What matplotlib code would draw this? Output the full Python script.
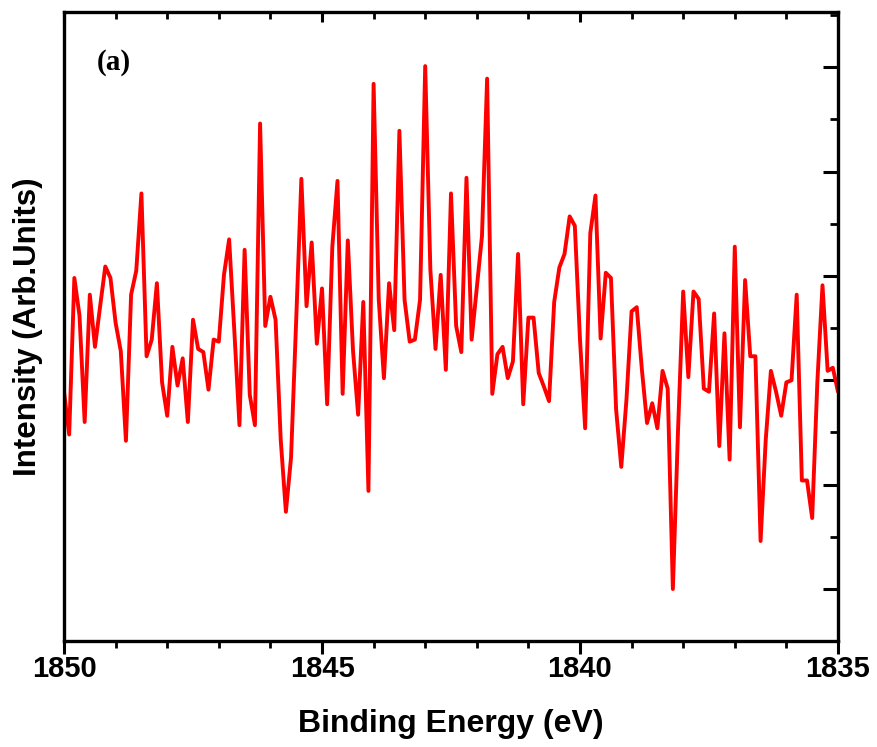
import matplotlib
matplotlib.use("Agg")
import matplotlib.pyplot as plt
from matplotlib.ticker import MultipleLocator
import numpy as np

# S 1s region scan, 0.1 eV steps from 1850 eV down to 1835 eV
energy_start = 1850.0
energy_step = 0.1
intensity = [
    5289, 5248, 5398, 5362, 5260, 5382, 5332, 5371, 5409, 5398,
    5355, 5328, 5242, 5382, 5405, 5479, 5323, 5339, 5393, 5298,
    5266, 5332, 5295, 5321, 5260, 5358, 5330, 5327, 5291, 5339,
    5337, 5401, 5435, 5348, 5257, 5425, 5286, 5257, 5546, 5352,
    5380, 5358, 5243, 5174, 5226, 5358, 5493, 5371, 5432, 5335,
    5388, 5277, 5428, 5491, 5287, 5434, 5329, 5267, 5375, 5194,
    5584, 5377, 5302, 5393, 5348, 5539, 5377, 5337, 5339, 5377,
    5601, 5406, 5330, 5401, 5310, 5479, 5352, 5327, 5494, 5339,
    5388, 5438, 5589, 5287, 5325, 5332, 5302, 5318, 5421, 5277,
    5360, 5360, 5307, 5294, 5280, 5375, 5408, 5421, 5457, 5448,
    5339, 5254, 5441, 5477, 5340, 5403, 5398, 5272, 5217, 5281,
    5366, 5370, 5310, 5259, 5278, 5254, 5309, 5292, 5100, 5252,
    5385, 5303, 5385, 5378, 5292, 5289, 5364, 5237, 5345, 5224,
    5428, 5255, 5396, 5323, 5323, 5146, 5243, 5309, 5289, 5266,
    5298, 5300, 5382, 5204, 5204, 5168, 5298, 5391, 5309, 5312,
    5289,
]
energy = energy_start - energy_step * np.arange(len(intensity))

x_ticks = [1850, 1845, 1840, 1835]
x_tick_labels = ["1850", "1845", "1840", "1835"]

plt.rcParams["font.family"] = ["Liberation Sans", "DejaVu Sans"]

fig = plt.figure(figsize=(8.77, 7.47), dpi=100)
ax = fig.add_axes([0.073, 0.1419, 0.8825, 0.842])

ax.plot(energy, intensity, color="#ff0000", lw=2.8,
        solid_joinstyle="round", solid_capstyle="round")

ax.set_xlim(1850, 1835)
ax.set_ylim(5050.2, 5652.8)

ax.set_xticks(x_ticks)
ax.set_xticklabels(x_tick_labels, fontsize=21, fontweight="bold")
ax.xaxis.set_minor_locator(MultipleLocator(1))
ax.yaxis.set_major_locator(MultipleLocator(100))
ax.yaxis.set_minor_locator(MultipleLocator(50))

ax.tick_params(axis="x", which="major", direction="out", length=9, width=2.2,
               bottom=True, top=False, pad=1)
ax.tick_params(axis="x", which="minor", direction="out", length=5, width=2.0,
               bottom=True, top=False)

# inward ticks along the top edge
top = ax.secondary_xaxis("top")
top.set_xticks(x_ticks)
top.xaxis.set_minor_locator(MultipleLocator(1))
top.tick_params(axis="x", which="major", direction="in", length=7, width=2.2, labeltop=False)
top.tick_params(axis="x", which="minor", direction="in", length=5, width=2.0, labeltop=False)
top.spines["top"].set_visible(False)

ax.tick_params(axis="y", which="both", left=False, labelleft=False,
               right=True, labelright=False, direction="in")
ax.tick_params(axis="y", which="major", length=11, width=2.2)
ax.tick_params(axis="y", which="minor", length=6, width=2.0)

for sp in ax.spines.values():
    sp.set_linewidth(2.4)

ax.set_xlabel("Binding Energy (eV)", fontsize=23, fontweight="bold", labelpad=19)
ax.set_ylabel("Intensity (Arb.Units)", fontsize=22.5, fontweight="bold", labelpad=15)

ax.text(0.042, 0.92, "(a)", transform=ax.transAxes, fontsize=21, fontweight="bold",
        family=["Liberation Serif", "DejaVu Serif"], va="center", ha="left")

fig.savefig("out.png", dpi=100)
